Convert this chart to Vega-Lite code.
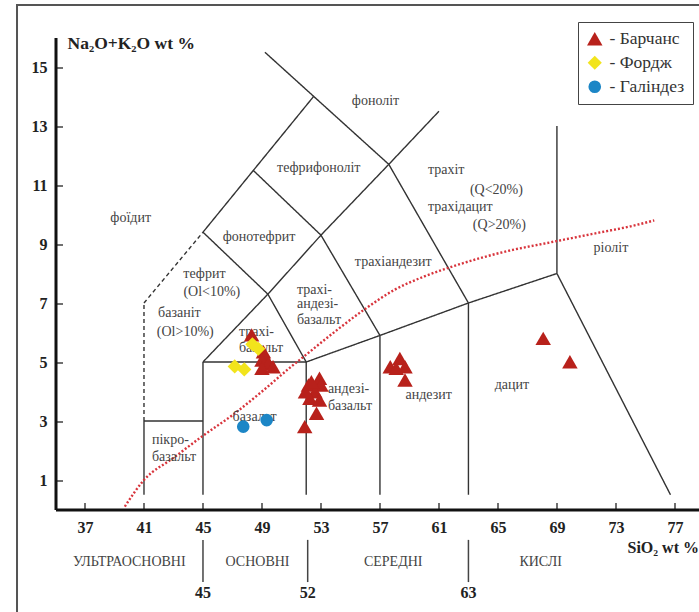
{
  "$schema": "https://vega.github.io/schema/vega-lite/v6.json",
  "width": 643,
  "height": 472,
  "autosize": {"type": "none"},
  "padding": {"left": 55.5, "top": 37.5, "right": 0, "bottom": 102.5},
  "background": "white",
  "config": {"view": {"stroke": null}, "font": "'Liberation Serif', 'DejaVu Serif', serif"},
  "datasets": {
    "segs": [
      {"x": 41, "y": 0.5, "x2": 41, "y2": 3, "k": "s"},
      {"x": 41, "y": 3, "x2": 45, "y2": 3, "k": "s"},
      {"x": 45, "y": 0.5, "x2": 45, "y2": 5, "k": "s"},
      {"x": 45, "y": 5, "x2": 52, "y2": 5, "k": "s"},
      {"x": 52, "y": 0.5, "x2": 52, "y2": 5, "k": "s"},
      {"x": 52, "y": 5, "x2": 57, "y2": 5.9, "k": "s"},
      {"x": 57, "y": 0.5, "x2": 57, "y2": 5.9, "k": "s"},
      {"x": 57, "y": 5.9, "x2": 63, "y2": 7, "k": "s"},
      {"x": 63, "y": 0.5, "x2": 63, "y2": 7, "k": "s"},
      {"x": 63, "y": 7, "x2": 69, "y2": 8, "k": "s"},
      {"x": 69, "y": 8, "x2": 76.7, "y2": 0.5, "k": "s"},
      {"x": 69, "y": 8, "x2": 69, "y2": 13, "k": "s"},
      {"x": 45, "y": 5, "x2": 49.4, "y2": 7.3, "k": "s"},
      {"x": 49.4, "y": 7.3, "x2": 52, "y2": 5, "k": "s"},
      {"x": 45, "y": 9.4, "x2": 49.4, "y2": 7.3, "k": "s"},
      {"x": 49.4, "y": 7.3, "x2": 53, "y2": 9.3, "k": "s"},
      {"x": 53, "y": 9.3, "x2": 57, "y2": 5.9, "k": "s"},
      {"x": 48.4, "y": 11.5, "x2": 53, "y2": 9.3, "k": "s"},
      {"x": 53, "y": 9.3, "x2": 57.6, "y2": 11.7, "k": "s"},
      {"x": 57.6, "y": 11.7, "x2": 63, "y2": 7, "k": "s"},
      {"x": 45, "y": 9.4, "x2": 52.5, "y2": 14, "k": "s"},
      {"x": 49.2, "y": 15.5, "x2": 57.6, "y2": 11.7, "k": "s"},
      {"x": 57.6, "y": 11.7, "x2": 61, "y2": 13.5, "k": "s"},
      {"x": 41, "y": 3, "x2": 41, "y2": 7, "k": "d"},
      {"x": 41, "y": 7, "x2": 45, "y2": 9.4, "k": "d"}
    ],
    "curve": [
      {"x": 39.7, "y": 0.1}, {"x": 41, "y": 1.0}, {"x": 43, "y": 1.75}, {"x": 45, "y": 2.5},
      {"x": 47, "y": 3.2}, {"x": 49, "y": 4.0}, {"x": 51, "y": 4.85}, {"x": 52, "y": 5.25},
      {"x": 54, "y": 6.05}, {"x": 56, "y": 6.8}, {"x": 58, "y": 7.45}, {"x": 60, "y": 7.9},
      {"x": 62, "y": 8.25}, {"x": 64, "y": 8.55}, {"x": 66, "y": 8.8}, {"x": 68, "y": 9.0},
      {"x": 70, "y": 9.2}, {"x": 72, "y": 9.4}, {"x": 74, "y": 9.6}, {"x": 75.6, "y": 9.8}
    ],
    "pts": [
      {"series": "Барчанс", "sio2": 48.3, "alk": 5.92},
      {"series": "Барчанс", "sio2": 49.1, "alk": 5.35},
      {"series": "Барчанс", "sio2": 49.2, "alk": 5.18},
      {"series": "Барчанс", "sio2": 49.0, "alk": 5.07},
      {"series": "Барчанс", "sio2": 49.45, "alk": 4.96},
      {"series": "Барчанс", "sio2": 49.0, "alk": 4.79},
      {"series": "Барчанс", "sio2": 49.75, "alk": 4.84},
      {"series": "Барчанс", "sio2": 52.15, "alk": 4.22},
      {"series": "Барчанс", "sio2": 52.9, "alk": 4.45},
      {"series": "Барчанс", "sio2": 53.0, "alk": 4.22},
      {"series": "Барчанс", "sio2": 52.6, "alk": 3.99},
      {"series": "Барчанс", "sio2": 52.25, "alk": 3.77},
      {"series": "Барчанс", "sio2": 52.9, "alk": 3.71},
      {"series": "Барчанс", "sio2": 52.7, "alk": 3.26},
      {"series": "Барчанс", "sio2": 51.9, "alk": 2.81},
      {"series": "Барчанс", "sio2": 51.95, "alk": 3.99},
      {"series": "Барчанс", "sio2": 52.35, "alk": 4.33},
      {"series": "Барчанс", "sio2": 57.7, "alk": 4.84},
      {"series": "Барчанс", "sio2": 58.35, "alk": 5.12},
      {"series": "Барчанс", "sio2": 58.7, "alk": 4.84},
      {"series": "Барчанс", "sio2": 58.7, "alk": 4.39},
      {"series": "Барчанс", "sio2": 58.1, "alk": 4.79},
      {"series": "Барчанс", "sio2": 68.07, "alk": 5.8},
      {"series": "Барчанс", "sio2": 69.88, "alk": 5.01},
      {"series": "Фордж", "sio2": 47.15, "alk": 4.85},
      {"series": "Фордж", "sio2": 47.8, "alk": 4.75},
      {"series": "Фордж", "sio2": 48.35, "alk": 5.6},
      {"series": "Фордж", "sio2": 48.75, "alk": 5.45},
      {"series": "Галіндез", "sio2": 47.73, "alk": 2.81},
      {"series": "Галіндез", "sio2": 49.32, "alk": 3.03}
    ],
    "labC": [
      {"t": "фоїдит", "x": 40.1, "y": 9.88},
      {"t": "фонотефрит", "x": 48.8, "y": 9.25},
      {"t": "тефрифоноліт", "x": 52.85, "y": 11.58},
      {"t": "фоноліт", "x": 56.7, "y": 13.85},
      {"t": "трахіандезит", "x": 57.9, "y": 8.39},
      {"t": "ріоліт", "x": 72.66, "y": 8.88},
      {"t": "тефрит", "x": 45.1, "y": 8.0},
      {"t": "(Ol<10%)", "x": 45.6, "y": 7.38},
      {"t": "базаніт", "x": 43.4, "y": 6.66},
      {"t": "(Ol>10%)", "x": 43.8, "y": 6.02},
      {"t": "базальт", "x": 48.5, "y": 3.15},
      {"t": "андезит", "x": 60.3, "y": 3.88},
      {"t": "дацит", "x": 65.95, "y": 4.22}
    ],
    "labL": [
      {"t": "трахіт", "x": 60.25, "y": 11.5},
      {"t": "(Q<20%)", "x": 63.1, "y": 10.83},
      {"t": "трахідацит", "x": 60.25, "y": 10.25},
      {"t": "(Q>20%)", "x": 63.3, "y": 9.64},
      {"t": "трахі-", "x": 51.37, "y": 7.43},
      {"t": "андезі-", "x": 51.37, "y": 6.95},
      {"t": "базальт", "x": 51.37, "y": 6.44},
      {"t": "трахі-", "x": 47.44, "y": 6.02},
      {"t": "базальт", "x": 47.44, "y": 5.47},
      {"t": "пікро-", "x": 41.54, "y": 2.36},
      {"t": "базальт", "x": 41.54, "y": 1.78},
      {"t": "андезі-", "x": 53.47, "y": 4.08},
      {"t": "базальт", "x": 53.47, "y": 3.51}
    ],
    "groups": [
      {"t": "УЛЬТРАОСНОВНІ", "x": 40.0},
      {"t": "ОСНОВНІ", "x": 48.7},
      {"t": "СЕРЕДНІ", "x": 57.9},
      {"t": "КИСЛІ", "x": 67.9}
    ],
    "bounds": [
      {"t": "45", "x": 45},
      {"t": "52", "x": 52.1},
      {"t": "63", "x": 63}
    ]
  },
  "layer": [
    {
      "data": {"name": "segs"},
      "mark": {"type": "rule", "color": "#333", "strokeWidth": 1.4},
      "encoding": {
        "x": {
          "field": "x", "type": "quantitative",
          "scale": {"domain": [35, 78.6], "nice": false, "zero": false},
          "axis": {
            "values": [37, 39, 41, 43, 45, 47, 49, 51, 53, 55, 57, 59, 61, 63, 65, 67, 69, 71, 73, 75, 77],
            "labelExpr": "(datum.value - 37) % 4 == 0 ? datum.value : ''",
            "grid": false, "domainWidth": 3, "domainColor": "#111",
            "tickColor": "#222", "tickSize": -7, "tickWidth": 1.3,
            "labelFont": "'Liberation Serif', 'DejaVu Serif', serif", "labelFontSize": 16, "labelFontWeight": "bold", "labelColor": "#222",
            "labelPadding": 17, "labelOverlap": false, "labelFlush": false,
            "title": "SiO₂ wt %", "titleFont": "'Liberation Serif', 'DejaVu Serif', serif", "titleFontSize": 16, "titleFontWeight": "bold", "titleColor": "#222",
            "titleX": 571.5, "titleY": 37.5, "titleAlign": "left", "titleBaseline": "middle", "titleAngle": 0
          }
        },
        "y": {
          "field": "y", "type": "quantitative",
          "scale": {"domain": [0, 16], "nice": false},
          "axis": {
            "values": [1, 2, 3, 4, 5, 6, 7, 8, 9, 10, 11, 12, 13, 14, 15],
            "labelExpr": "datum.value % 2 == 1 ? datum.value : ''",
            "grid": false, "domainWidth": 3, "domainColor": "#111",
            "tickColor": "#222", "tickSize": -7, "tickWidth": 1.3,
            "labelFont": "'Liberation Serif', 'DejaVu Serif', serif", "labelFontSize": 16, "labelFontWeight": "bold", "labelColor": "#222",
            "labelPadding": 15.5, "labelOverlap": false, "labelFlush": false,
            "title": "Na₂O+K₂O wt %", "titleFont": "'Liberation Serif', 'DejaVu Serif', serif", "titleFontSize": 17.5, "titleFontWeight": "bold", "titleColor": "#222",
            "titleX": 11.5, "titleY": 5.5, "titleAlign": "left", "titleBaseline": "middle", "titleAngle": 0
          }
        },
        "x2": {"field": "x2"},
        "y2": {"field": "y2"},
        "strokeDash": {"field": "k", "type": "nominal", "scale": {"domain": ["s", "d"], "range": [[1, 0], [4, 3]]}, "legend": null}
      }
    },
    {
      "data": {"values": [{}]},
      "mark": {"type": "rect", "fill": "transparent", "stroke": "#555", "strokeWidth": 2, "clip": false},
      "encoding": {
        "x": {"datum": 32.39, "type": "quantitative"},
        "x2": {"datum": 82},
        "y": {"datum": 17.1, "type": "quantitative"},
        "y2": {"datum": -6}
      }
    },
    {
      "data": {"name": "curve"},
      "mark": {"type": "line", "color": "#d8343c", "strokeWidth": 2.4, "strokeDash": [2, 2], "interpolate": "monotone"},
      "encoding": {
        "x": {"field": "x", "type": "quantitative"},
        "y": {"field": "y", "type": "quantitative"}
      }
    },
    {
      "data": {"name": "labC"},
      "mark": {"type": "text", "font": "'Liberation Serif', 'DejaVu Serif', serif", "fontSize": 14, "color": "#444", "align": "center", "baseline": "middle"},
      "encoding": {
        "x": {"field": "x", "type": "quantitative"},
        "y": {"field": "y", "type": "quantitative"},
        "text": {"field": "t"}
      }
    },
    {
      "data": {"name": "labL"},
      "mark": {"type": "text", "font": "'Liberation Serif', 'DejaVu Serif', serif", "fontSize": 14, "color": "#444", "align": "left", "baseline": "middle"},
      "encoding": {
        "x": {"field": "x", "type": "quantitative"},
        "y": {"field": "y", "type": "quantitative"},
        "text": {"field": "t"}
      }
    },
    {
      "data": {"name": "groups"},
      "mark": {"type": "text", "font": "'Liberation Serif', 'DejaVu Serif', serif", "fontSize": 14, "color": "#444", "align": "center", "baseline": "middle"},
      "encoding": {
        "x": {"field": "x", "type": "quantitative"},
        "y": {"datum": -1.78, "type": "quantitative"},
        "text": {"field": "t"}
      }
    },
    {
      "data": {"name": "bounds"},
      "mark": {"type": "rule", "color": "#444", "strokeWidth": 1.5},
      "encoding": {
        "x": {"field": "x", "type": "quantitative"},
        "y": {"datum": -1.03, "type": "quantitative"},
        "y2": {"datum": -2.46}
      }
    },
    {
      "data": {"name": "bounds"},
      "mark": {"type": "text", "font": "'Liberation Serif', 'DejaVu Serif', serif", "fontSize": 16, "fontWeight": "bold", "color": "#222", "align": "center", "baseline": "middle"},
      "encoding": {
        "x": {"field": "x", "type": "quantitative"},
        "y": {"datum": -2.83, "type": "quantitative"},
        "text": {"field": "t"}
      }
    },
    {
      "data": {"name": "pts"},
      "mark": {"type": "point", "filled": true, "opacity": 1, "strokeWidth": 0},
      "encoding": {
        "x": {"field": "sio2", "type": "quantitative"},
        "y": {"field": "alk", "type": "quantitative"},
        "color": {
          "field": "series", "type": "nominal",
          "scale": {"domain": ["Барчанс", "Фордж", "Галіндез"], "range": ["#b8211b", "#f2e41c", "#1c86c6"]},
          "legend": {
            "title": null, "orient": "none", "legendX": 522.5, "legendY": -15.5,
            "strokeColor": "#444", "fillColor": "white", "padding": 8,
            "labelFont": "'Liberation Serif', 'DejaVu Serif', serif", "labelFontSize": 17.5, "labelColor": "#333",
            "rowPadding": 5, "labelOffset": 6, "labelExpr": "'- ' + datum.label + '    '"
          }
        },
        "shape": {
          "field": "series", "type": "nominal",
          "scale": {"domain": ["Барчанс", "Фордж", "Галіндез"], "range": ["triangle-up", "diamond", "circle"]}
        },
        "size": {
          "field": "series", "type": "nominal",
          "scale": {"domain": ["Барчанс", "Фордж", "Галіндез"], "range": [240, 160, 150]}
        }
      }
    }
  ]
}
